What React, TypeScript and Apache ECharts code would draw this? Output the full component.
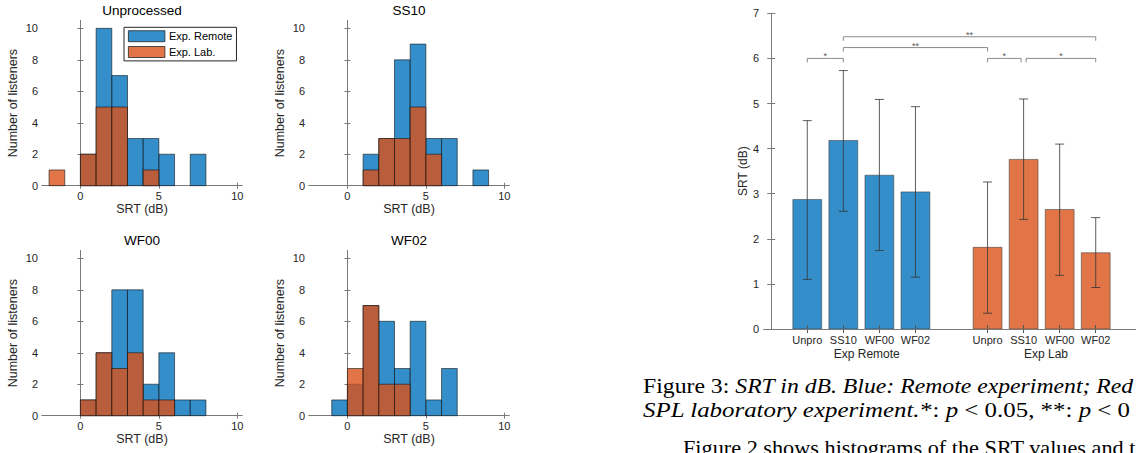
import React, { useEffect, useRef } from 'react';
import * as echarts from 'echarts';

// ---------- Histogram data (bins of width 1 starting at these edges) ----------
const BIN_STARTS = [-2, -1, 0, 1, 2, 3, 4, 5, 6, 7, 8, 9];
const BIN_WIDTH = 1;
const HIST_TITLES = ['Unprocessed', 'SS10', 'WF00', 'WF02'];
const unprocessedRemote = [0, 0, 2, 10, 7, 3, 3, 2, 0, 2, 0, 0];
const unprocessedLab = [1, 0, 2, 5, 5, 0, 1, 0, 0, 0, 0, 0];
const ss10Remote = [0, 0, 0, 2, 3, 8, 9, 3, 3, 0, 1, 0];
const ss10Lab = [0, 0, 0, 1, 3, 3, 5, 2, 0, 0, 0, 0];
const wf00Remote = [0, 0, 1, 4, 8, 8, 2, 4, 1, 1, 0, 0];
const wf00Lab = [0, 0, 1, 4, 3, 4, 1, 1, 0, 0, 0, 0];
const wf02Remote = [0, 1, 2, 7, 6, 3, 6, 1, 3, 0, 0, 0];
const wf02Lab = [0, 0, 3, 7, 2, 2, 0, 0, 0, 0, 0, 0];
const HIST_REMOTE = [unprocessedRemote, ss10Remote, wf00Remote, wf02Remote];
const HIST_LAB = [unprocessedLab, ss10Lab, wf00Lab, wf02Lab];
const HIST_X_TICKS = [0, 5, 10];
const HIST_Y_TICKS = [0, 2, 4, 6, 8, 10];
const LEGEND_NAMES = ['Exp. Remote', 'Exp. Lab.'];

// ---------- Bar chart data ----------
const BAR_CATEGORIES = ['Unpro', 'SS10', 'WF00', 'WF02'];
const GROUP_LABELS = ['Exp Remote', 'Exp Lab'];
const GROUP_LABEL_POS = [2.65, 7.62];
const REMOTE_POS = [1, 2, 3, 4];
const LAB_POS = [6, 7, 8, 9];
const remoteMean = [2.87, 4.18, 3.41, 3.04];
const remoteLow = [1.1, 2.61, 1.74, 1.15];
const remoteHigh = [4.62, 5.73, 5.09, 4.93];
const labMean = [1.81, 3.76, 2.65, 1.69];
const labLow = [0.35, 2.43, 1.19, 0.92];
const labHigh = [3.26, 5.1, 4.1, 2.47];
const BAR_Y_TICKS = [0, 1, 2, 3, 4, 5, 6, 7];
// significance brackets: [from, to, height]
const bracketFrom = [1, 2, 2, 6, 7.07];
const bracketTo = [2, 6, 9, 6.93, 9];
const bracketHeight = [6.0, 6.24, 6.48, 6.0, 6.0];
const bracketLabels = ['*', '**', '**', '*', '*'];

// ---------- Caption text ----------
const CAPTION_1 = '{r|Figure 3: }{i|SRT in dB. Blue: Remote experiment; Red}';
const CAPTION_2 = '{i|SPL laboratory experiment.}{r|*: }{i|p}{r| < 0.05, **: }{i|p}{r| < 0}';
const CAPTION_3 = '{r|Figure 2 shows histograms of the SRT values and t}';

// ---------- Styles ----------
const SANS = 'Liberation Sans, Arial, Helvetica, sans-serif';
const SERIF = 'Liberation Serif, Times New Roman, serif';
const BLUE = 'rgba(0,114,189,0.8)';
const ORANGE = 'rgba(217,83,25,0.8)';
const EDGE = 'rgba(20,20,20,0.75)';
const AXIS = '#7a7a7a';
const TEXT = '#262626';

const HIST_GRIDS = [
  { left: 42, top: 20.5 },
  { left: 309, top: 20.5 },
  { left: 42, top: 250.5 },
  { left: 309, top: 250.5 },
];
const HIST_W = 200;
const HIST_H = 165.2;

function histData(counts: number[]) {
  const out: number[][] = [];
  counts.forEach((c, i) => {
    if (c > 0) out.push([BIN_STARTS[i], BIN_STARTS[i] + BIN_WIDTH, c]);
  });
  return out;
}

const histRender = (fill: string) => (_p: any, api: any) => {
  const x0 = api.value(0);
  const x1 = api.value(1);
  const c = api.value(2);
  const a = api.coord([x0, c]);
  const b = api.coord([x1, 0]);
  return {
    type: 'rect',
    shape: { x: a[0], y: a[1], width: b[0] - a[0], height: b[1] - a[1] },
    style: { fill, stroke: EDGE, lineWidth: 0.8 },
  };
};

const barRender = (fill: string) => (_p: any, api: any) => {
  const x = api.value(0);
  const m = api.value(1);
  const lo = api.value(2);
  const hi = api.value(3);
  const a = api.coord([x - 0.4, m]);
  const b = api.coord([x + 0.4, 0]);
  const t = api.coord([x, hi]);
  const d = api.coord([x, lo]);
  const cap = 4.5;
  const es = { stroke: '#333', lineWidth: 0.8 };
  return {
    type: 'group',
    children: [
      {
        type: 'rect',
        shape: { x: a[0], y: a[1], width: b[0] - a[0], height: b[1] - a[1] },
        style: { fill, stroke: 'rgba(60,60,60,0.55)', lineWidth: 1 },
      },
      { type: 'line', shape: { x1: t[0], y1: t[1], x2: d[0], y2: d[1] }, style: es },
      { type: 'line', shape: { x1: t[0] - cap, y1: t[1], x2: t[0] + cap, y2: t[1] }, style: es },
      { type: 'line', shape: { x1: d[0] - cap, y1: d[1], x2: d[0] + cap, y2: d[1] }, style: es },
    ],
  };
};

const bracketRender = (p: any, api: any) => {
  const x1 = api.value(0);
  const x2 = api.value(1);
  const y = api.value(2);
  const a = api.coord([x1, y]);
  const b = api.coord([x2, y]);
  const dip = 4;
  return {
    type: 'group',
    children: [
      {
        type: 'polyline',
        shape: { points: [[a[0], a[1] + dip], [a[0], a[1]], [b[0], b[1]], [b[0], b[1] + dip]] },
        style: { stroke: '#8a8a8a', lineWidth: 1, fill: 'none' },
      },
      {
        type: 'text',
        x: (a[0] + b[0]) / 2,
        y: a[1] - 2,
        style: {
          text: bracketLabels[p.dataIndex],
          fill: '#555',
          fontSize: 9,
          fontFamily: SANS,
          align: 'center',
          verticalAlign: 'middle',
        },
      },
    ],
  };
};

function catLabel(v: number) {
  const i = REMOTE_POS.indexOf(v);
  if (i >= 0) return BAR_CATEGORIES[i];
  const j = LAB_POS.indexOf(v);
  return j >= 0 ? BAR_CATEGORIES[j] : '';
}

function buildOption() {
  const grid: any[] = HIST_GRIDS.map((g) => ({
    left: g.left,
    top: g.top,
    width: HIST_W,
    height: HIST_H,
    outerBoundsMode: 'none',
  }));
  grid.push({ left: 764, top: 13.3, width: 375, height: 315.7, outerBoundsMode: 'none' });

  const xAxis: any[] = [];
  const yAxis: any[] = [];
  const series: any[] = [];
  const axisLine = { show: true, lineStyle: { color: AXIS, width: 1 } };

  HIST_GRIDS.forEach((_g, i) => {
    xAxis.push({
      type: 'value',
      gridIndex: i,
      position: 'bottom',
      min: -2.45,
      max: 10.3,
      axisLine,
      axisTick: { show: true, inside: true, length: 3, customValues: HIST_X_TICKS, lineStyle: { color: AXIS } },
      axisLabel: { customValues: HIST_X_TICKS, margin: 5, fontSize: 11, color: TEXT, fontFamily: SANS },
      splitLine: { show: false },
      name: 'SRT (dB)',
      nameLocation: 'middle',
      nameGap: 11,
      nameTextStyle: { fontSize: 12.5, color: TEXT, fontFamily: SANS },
    });
    xAxis.push({
      type: 'value',
      gridIndex: i,
      position: 'top',
      min: -2.45,
      max: 10.3,
      axisLine,
      axisTick: { show: true, inside: true, length: 3, customValues: HIST_X_TICKS, lineStyle: { color: AXIS } },
      axisLabel: { show: false },
      splitLine: { show: false },
    });
    yAxis.push({
      type: 'value',
      gridIndex: i,
      position: 'left',
      min: 0,
      max: 10.5,
      axisLine,
      axisTick: { show: true, inside: true, length: 3, customValues: HIST_Y_TICKS, lineStyle: { color: AXIS } },
      axisLabel: { customValues: HIST_Y_TICKS, margin: 4, fontSize: 11, color: TEXT, fontFamily: SANS },
      splitLine: { show: false },
      name: 'Number of listeners',
      nameLocation: 'middle',
      nameGap: 23,
      nameTextStyle: { fontSize: 12.5, color: TEXT, fontFamily: SANS },
    });
    yAxis.push({
      type: 'value',
      gridIndex: i,
      position: 'right',
      min: 0,
      max: 10.5,
      axisLine,
      axisTick: { show: true, inside: true, length: 3, customValues: HIST_Y_TICKS, lineStyle: { color: AXIS } },
      axisLabel: { show: false },
      splitLine: { show: false },
    });
    series.push({
      type: 'custom',
      name: LEGEND_NAMES[0],
      xAxisIndex: 2 * i,
      yAxisIndex: 2 * i,
      itemStyle: { color: BLUE },
      encode: { x: [0, 1], y: 2 },
      data: histData(HIST_REMOTE[i]),
      renderItem: histRender(BLUE),
      z: 2,
    });
    series.push({
      type: 'custom',
      name: LEGEND_NAMES[1],
      xAxisIndex: 2 * i,
      yAxisIndex: 2 * i,
      itemStyle: { color: ORANGE },
      encode: { x: [0, 1], y: 2 },
      data: histData(HIST_LAB[i]),
      renderItem: histRender(ORANGE),
      z: 3,
    });
  });

  // Bar chart axes (grid 4)
  const allPos = REMOTE_POS.concat(LAB_POS);
  xAxis.push({
    type: 'value',
    gridIndex: 4,
    position: 'bottom',
    min: -0.2,
    max: 10.2,
    axisLine,
    axisTick: { show: true, inside: true, length: 4, customValues: allPos, lineStyle: { color: '#555' } },
    axisLabel: {
      customValues: allPos,
      formatter: (v: number) => catLabel(v),
      margin: 5,
      fontSize: 11,
      color: TEXT,
      fontFamily: SANS,
    },
    splitLine: { show: false },
    z: 5,
  });
  xAxis.push({
    type: 'value',
    gridIndex: 4,
    position: 'top',
    min: -0.2,
    max: 10.2,
    axisLine,
    axisTick: { show: true, inside: true, length: 4, customValues: allPos, lineStyle: { color: '#555' } },
    axisLabel: { show: false },
    splitLine: { show: false },
  });
  xAxis.push({
    type: 'value',
    gridIndex: 4,
    position: 'bottom',
    min: -0.2,
    max: 10.2,
    axisLine: { show: false },
    axisTick: { show: false },
    axisLabel: {
      customValues: GROUP_LABEL_POS,
      formatter: (v: number) => GROUP_LABELS[GROUP_LABEL_POS.indexOf(v)] || '',
      margin: 19,
      fontSize: 12,
      color: TEXT,
      fontFamily: SANS,
    },
    splitLine: { show: false },
  });
  yAxis.push({
    type: 'value',
    gridIndex: 4,
    position: 'left',
    min: 0,
    max: 7,
    axisLine,
    axisTick: { show: true, inside: true, length: 4, customValues: BAR_Y_TICKS, lineStyle: { color: AXIS } },
    axisLabel: { customValues: BAR_Y_TICKS, margin: 5, fontSize: 11, color: TEXT, fontFamily: SANS },
    splitLine: { show: false },
    name: 'SRT (dB)',
    nameLocation: 'middle',
    nameGap: 15,
    nameTextStyle: { fontSize: 12, color: TEXT, fontFamily: SANS },
  });
  yAxis.push({
    type: 'value',
    gridIndex: 4,
    position: 'right',
    min: 0,
    max: 7,
    axisLine,
    axisTick: { show: true, inside: true, length: 4, customValues: BAR_Y_TICKS, lineStyle: { color: AXIS } },
    axisLabel: { show: false },
    splitLine: { show: false },
  });

  const xi = xAxis.length - 3;
  const yi = yAxis.length - 2;
  series.push({
    type: 'custom',
    name: 'Remote means',
    xAxisIndex: xi,
    yAxisIndex: yi,
    encode: { x: 0, y: [1, 2, 3] },
    data: REMOTE_POS.map((p, i) => [p, remoteMean[i], remoteLow[i], remoteHigh[i]]),
    renderItem: barRender(BLUE),
  });
  series.push({
    type: 'custom',
    name: 'Lab means',
    xAxisIndex: xi,
    yAxisIndex: yi,
    encode: { x: 0, y: [1, 2, 3] },
    data: LAB_POS.map((p, i) => [p, labMean[i], labLow[i], labHigh[i]]),
    renderItem: barRender(ORANGE),
  });
  series.push({
    type: 'custom',
    name: 'Significance',
    xAxisIndex: xi,
    yAxisIndex: yi,
    encode: { x: [0, 1], y: 2 },
    data: bracketFrom.map((f, i) => [f, bracketTo[i], bracketHeight[i]]),
    renderItem: bracketRender,
  });

  const titleGraphics = HIST_GRIDS.map((g, i) => ({
    type: 'text',
    x: g.left + HIST_W / 2,
    y: g.top - 10,
    style: {
      text: HIST_TITLES[i],
      fontSize: 13.5,
      fontFamily: SANS,
      fill: '#000',
      align: 'center',
      verticalAlign: 'middle',
    },
  }));

  const capFont = 21;
  const rich = {
    r: { fontFamily: SERIF, fontSize: capFont, fill: '#000' },
    i: { fontFamily: SERIF, fontSize: capFont, fontStyle: 'italic', fill: '#000' },
  };
  const captionGraphics = [
    { text: CAPTION_1, x: 643, y: 386, s: 1.13 },
    { text: CAPTION_2, x: 643, y: 409.5, s: 1.185 },
    { text: CAPTION_3, x: 683, y: 448.5, s: 1.06 },
  ].map((c) => ({
    type: 'text',
    x: c.x,
    y: c.y,
    scaleX: c.s,
    style: { text: c.text, rich, verticalAlign: 'middle', align: 'left' },
  }));

  return {
    animation: false,
    backgroundColor: '#fff',
    textStyle: { fontFamily: SANS },
    grid,
    xAxis,
    yAxis,
    series,
    legend: {
      data: LEGEND_NAMES,
      selectedMode: false,
      orient: 'vertical',
      left: 124,
      top: 27.3,
      itemWidth: 36.5,
      itemHeight: 11,
      itemGap: 4,
      padding: [3, 4, 3, 4],
      icon: 'rect',
      borderColor: '#262626',
      borderWidth: 1,
      backgroundColor: '#fff',
      itemStyle: { borderColor: '#262626', borderWidth: 0.8 },
      textStyle: { fontSize: 11, color: '#000', fontFamily: SANS, padding: [0, 0, 0, -1] },
      z: 10,
    },
    graphic: [...titleGraphics, ...captionGraphics],
  };
}

export default function App() {
  const ref = useRef<HTMLDivElement>(null);
  useEffect(() => {
    if (!ref.current) return;
    const chart = echarts.init(ref.current, undefined, { renderer: 'svg' });
    chart.setOption(buildOption() as any);
    return () => chart.dispose();
  }, []);
  return (
    <div
      ref={ref}
      style={{ position: 'absolute', left: 0, top: 0, width: 1136, height: 453, background: '#fff' }}
    />
  );
}
